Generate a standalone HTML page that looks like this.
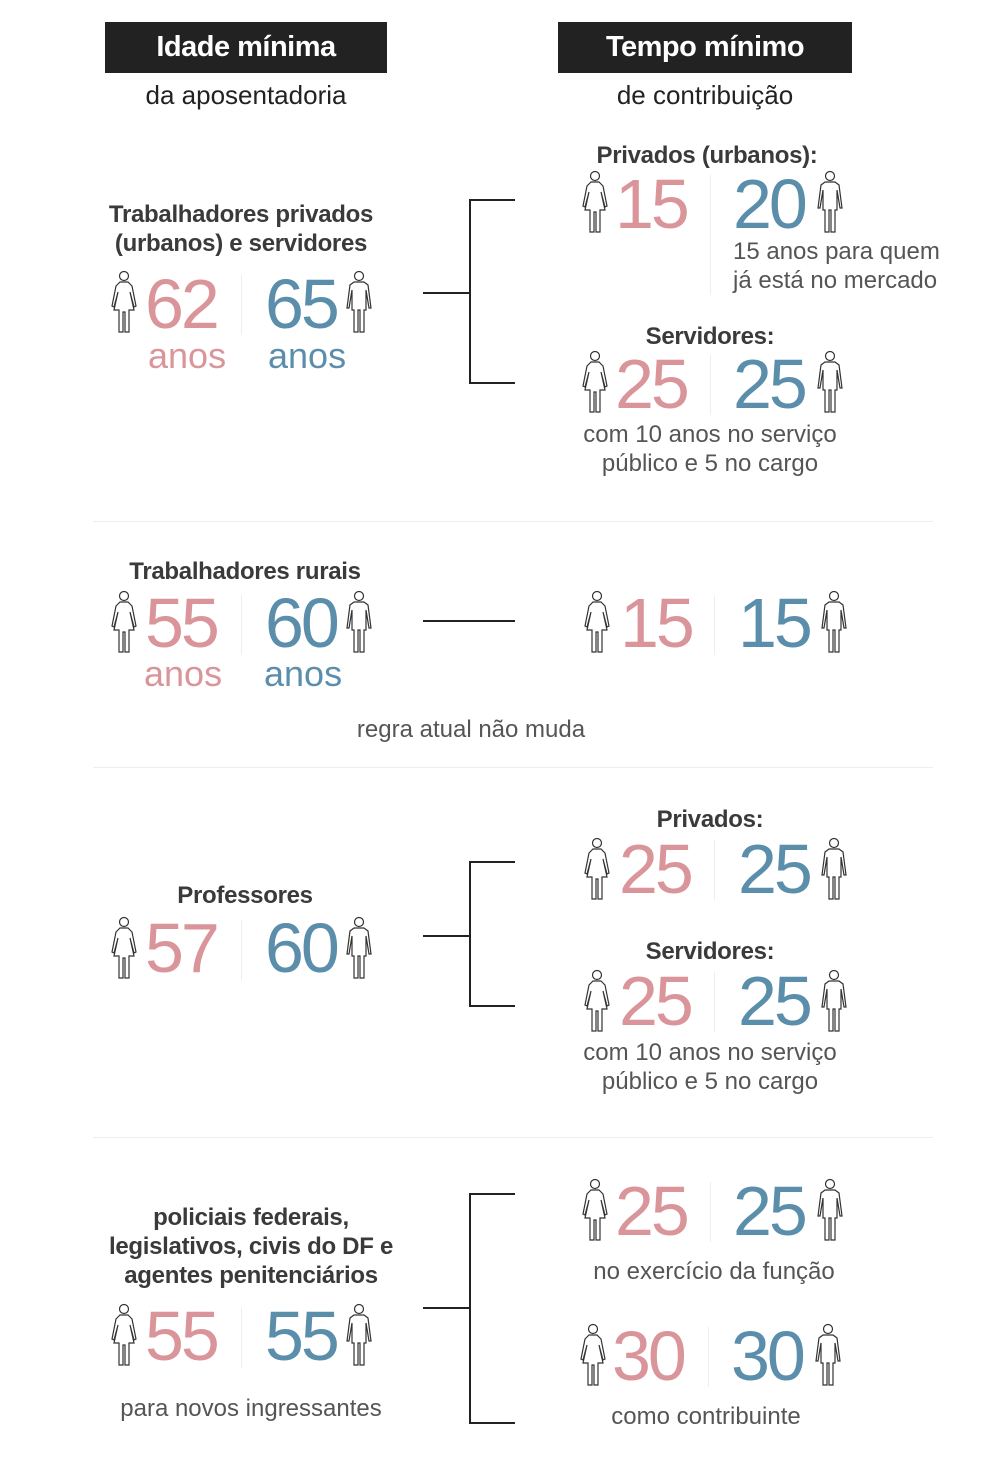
<!DOCTYPE html>
<html><head><meta charset="utf-8"><style>
body{margin:0;background:#fff;}
#c{position:relative;width:1000px;height:1479px;overflow:hidden;font-family:"Liberation Sans",sans-serif;}
#c div{position:absolute;white-space:nowrap;}
.hb{background:#222;color:#fff;font-weight:bold;font-size:29px;text-align:center;line-height:51px;height:51px;letter-spacing:-0.5px}
.sub{font-size:26px;color:#222;text-align:center;width:400px;line-height:30px}
.lb{font-size:24px;font-weight:bold;color:#3a3a3a;text-align:center;width:400px;line-height:29px;letter-spacing:-0.3px}
.gt{font-size:24px;color:#555;text-align:center;width:400px;line-height:29px}
.n{font-size:70px;line-height:70px;letter-spacing:-3px}
.p{color:#d9959a}.b{color:#5b8eab}
.an{font-size:36px;line-height:36px}
.s{width:1px;background:#eee}
.k{background:#222}
.d{height:1px;background:#eee;left:93px;width:840px}
svg{position:absolute}
</style></head><body><div id="c">
<svg width="0" height="0" style="position:absolute"><defs>
<path id="wm" d="M10,12 L18,12 L22,16 L26,36 L24,37 L20,22 L24,40 L19,40 L19,62 L15,62 L15,42 L13,42 L13,62 L9,62 L9,40 L4,40 L8,22 L4,37 L2,36 L6,16 Z"/>
<path id="mn" d="M9,12 L19,12 L23,15 L26,38 L24,38 L21,20 L21,40 L19,40 L19,62 L15,62 L15,40 L13,40 L13,62 L9,62 L9,40 L7,40 L7,20 L4,38 L2,38 L5,15 Z"/>
</defs></svg>

<div class="hb" style="left:105px;top:22px;width:282px">Idade mínima</div>
<div class="hb" style="left:558px;top:22px;width:294px">Tempo mínimo</div>
<div class="sub" style="left:46px;top:80px">da aposentadoria</div>
<div class="sub" style="left:505px;top:80px">de contribuição</div>

<!-- Section 1 -->
<div class="lb" style="left:41px;top:200px">Trabalhadores privados</div>
<div class="lb" style="left:41px;top:229px">(urbanos) e servidores</div>
<svg style="left:110px;top:270px" width="28" height="64"><circle cx="14" cy="6" r="4.5" fill="#fff" stroke="#333" stroke-width="1.2"/><use href="#wm" fill="#fff" stroke="#333" stroke-width="1.2"/></svg>
<div class="n p" style="left:145px;top:269px">62</div>
<div class="s" style="left:241px;top:275px;height:60px"></div>
<div class="n b" style="left:265px;top:269px">65</div>
<svg style="left:345px;top:270px" width="28" height="64"><circle cx="14" cy="6" r="4.5" fill="#fff" stroke="#333" stroke-width="1.2"/><use href="#mn" fill="#fff" stroke="#333" stroke-width="1.2"/></svg>
<div class="an p" style="left:148px;top:338px">anos</div>
<div class="an b" style="left:268px;top:338px">anos</div>

<div class="k" style="left:423px;top:292px;width:48px;height:2px"></div>
<div class="k" style="left:469px;top:199px;width:2px;height:185px"></div>
<div class="k" style="left:469px;top:199px;width:46px;height:2px"></div>
<div class="k" style="left:469px;top:382px;width:46px;height:2px"></div>

<div class="lb" style="left:507px;top:141px">Privados (urbanos):</div>
<svg style="left:581px;top:170px" width="28" height="64"><circle cx="14" cy="6" r="4.5" fill="#fff" stroke="#333" stroke-width="1.2"/><use href="#wm" fill="#fff" stroke="#333" stroke-width="1.2"/></svg>
<div class="n p" style="left:615px;top:169px">15</div>
<div class="s" style="left:710px;top:175px;height:120px"></div>
<div class="n b" style="left:733px;top:169px">20</div>
<svg style="left:816px;top:170px" width="28" height="64"><circle cx="14" cy="6" r="4.5" fill="#fff" stroke="#333" stroke-width="1.2"/><use href="#mn" fill="#fff" stroke="#333" stroke-width="1.2"/></svg>
<div class="gt" style="left:733px;top:237px;text-align:left">15 anos para quem</div>
<div class="gt" style="left:733px;top:266px;text-align:left">já está no mercado</div>

<div class="lb" style="left:510px;top:322px">Servidores:</div>
<svg style="left:581px;top:350px" width="28" height="64"><circle cx="14" cy="6" r="4.5" fill="#fff" stroke="#333" stroke-width="1.2"/><use href="#wm" fill="#fff" stroke="#333" stroke-width="1.2"/></svg>
<div class="n p" style="left:615px;top:349px">25</div>
<div class="s" style="left:710px;top:355px;height:60px"></div>
<div class="n b" style="left:733px;top:349px">25</div>
<svg style="left:816px;top:350px" width="28" height="64"><circle cx="14" cy="6" r="4.5" fill="#fff" stroke="#333" stroke-width="1.2"/><use href="#mn" fill="#fff" stroke="#333" stroke-width="1.2"/></svg>
<div class="gt" style="left:510px;top:420px">com 10 anos no serviço</div>
<div class="gt" style="left:510px;top:449px">público e 5 no cargo</div>

<div class="d" style="top:521px"></div>

<!-- Section 2 -->
<div class="lb" style="left:45px;top:557px">Trabalhadores rurais</div>
<svg style="left:110px;top:590px" width="28" height="64"><circle cx="14" cy="6" r="4.5" fill="#fff" stroke="#333" stroke-width="1.2"/><use href="#wm" fill="#fff" stroke="#333" stroke-width="1.2"/></svg>
<div class="n p" style="left:145px;top:588px">55</div>
<div class="s" style="left:241px;top:595px;height:60px"></div>
<div class="n b" style="left:265px;top:588px">60</div>
<svg style="left:345px;top:590px" width="28" height="64"><circle cx="14" cy="6" r="4.5" fill="#fff" stroke="#333" stroke-width="1.2"/><use href="#mn" fill="#fff" stroke="#333" stroke-width="1.2"/></svg>
<div class="an p" style="left:144px;top:656px">anos</div>
<div class="an b" style="left:264px;top:656px">anos</div>
<div class="k" style="left:423px;top:620px;width:92px;height:2px"></div>
<svg style="left:583px;top:590px" width="28" height="64"><circle cx="14" cy="6" r="4.5" fill="#fff" stroke="#333" stroke-width="1.2"/><use href="#wm" fill="#fff" stroke="#333" stroke-width="1.2"/></svg>
<div class="n p" style="left:620px;top:588px">15</div>
<div class="s" style="left:714px;top:595px;height:60px"></div>
<div class="n b" style="left:738px;top:588px">15</div>
<svg style="left:820px;top:590px" width="28" height="64"><circle cx="14" cy="6" r="4.5" fill="#fff" stroke="#333" stroke-width="1.2"/><use href="#mn" fill="#fff" stroke="#333" stroke-width="1.2"/></svg>
<div class="gt" style="left:271px;top:715px">regra atual não muda</div>

<div class="d" style="top:767px"></div>

<!-- Section 3 -->
<div class="lb" style="left:45px;top:881px">Professores</div>
<svg style="left:110px;top:916px" width="28" height="64"><circle cx="14" cy="6" r="4.5" fill="#fff" stroke="#333" stroke-width="1.2"/><use href="#wm" fill="#fff" stroke="#333" stroke-width="1.2"/></svg>
<div class="n p" style="left:145px;top:913px">57</div>
<div class="s" style="left:241px;top:920px;height:60px"></div>
<div class="n b" style="left:265px;top:913px">60</div>
<svg style="left:345px;top:916px" width="28" height="64"><circle cx="14" cy="6" r="4.5" fill="#fff" stroke="#333" stroke-width="1.2"/><use href="#mn" fill="#fff" stroke="#333" stroke-width="1.2"/></svg>
<div class="k" style="left:423px;top:935px;width:48px;height:2px"></div>
<div class="k" style="left:469px;top:861px;width:2px;height:146px"></div>
<div class="k" style="left:469px;top:861px;width:46px;height:2px"></div>
<div class="k" style="left:469px;top:1005px;width:46px;height:2px"></div>

<div class="lb" style="left:510px;top:805px">Privados:</div>
<svg style="left:583px;top:837px" width="28" height="64"><circle cx="14" cy="6" r="4.5" fill="#fff" stroke="#333" stroke-width="1.2"/><use href="#wm" fill="#fff" stroke="#333" stroke-width="1.2"/></svg>
<div class="n p" style="left:619px;top:834px">25</div>
<div class="s" style="left:714px;top:840px;height:60px"></div>
<div class="n b" style="left:738px;top:834px">25</div>
<svg style="left:820px;top:837px" width="28" height="64"><circle cx="14" cy="6" r="4.5" fill="#fff" stroke="#333" stroke-width="1.2"/><use href="#mn" fill="#fff" stroke="#333" stroke-width="1.2"/></svg>
<div class="lb" style="left:510px;top:937px">Servidores:</div>
<svg style="left:583px;top:969px" width="28" height="64"><circle cx="14" cy="6" r="4.5" fill="#fff" stroke="#333" stroke-width="1.2"/><use href="#wm" fill="#fff" stroke="#333" stroke-width="1.2"/></svg>
<div class="n p" style="left:619px;top:966px">25</div>
<div class="s" style="left:714px;top:972px;height:60px"></div>
<div class="n b" style="left:738px;top:966px">25</div>
<svg style="left:820px;top:969px" width="28" height="64"><circle cx="14" cy="6" r="4.5" fill="#fff" stroke="#333" stroke-width="1.2"/><use href="#mn" fill="#fff" stroke="#333" stroke-width="1.2"/></svg>
<div class="gt" style="left:510px;top:1038px">com 10 anos no serviço</div>
<div class="gt" style="left:510px;top:1067px">público e 5 no cargo</div>

<div class="d" style="top:1137px"></div>

<!-- Section 4 -->
<div class="lb" style="left:51px;top:1203px">policiais federais,</div>
<div class="lb" style="left:51px;top:1232px">legislativos, civis do DF e</div>
<div class="lb" style="left:51px;top:1261px">agentes penitenciários</div>
<svg style="left:110px;top:1303px" width="28" height="64"><circle cx="14" cy="6" r="4.5" fill="#fff" stroke="#333" stroke-width="1.2"/><use href="#wm" fill="#fff" stroke="#333" stroke-width="1.2"/></svg>
<div class="n p" style="left:145px;top:1301px">55</div>
<div class="s" style="left:241px;top:1308px;height:60px"></div>
<div class="n b" style="left:265px;top:1301px">55</div>
<svg style="left:345px;top:1303px" width="28" height="64"><circle cx="14" cy="6" r="4.5" fill="#fff" stroke="#333" stroke-width="1.2"/><use href="#mn" fill="#fff" stroke="#333" stroke-width="1.2"/></svg>
<div class="gt" style="left:51px;top:1394px">para novos ingressantes</div>
<div class="k" style="left:423px;top:1307px;width:48px;height:2px"></div>
<div class="k" style="left:469px;top:1193px;width:2px;height:231px"></div>
<div class="k" style="left:469px;top:1193px;width:46px;height:2px"></div>
<div class="k" style="left:469px;top:1422px;width:46px;height:2px"></div>

<svg style="left:581px;top:1178px" width="28" height="64"><circle cx="14" cy="6" r="4.5" fill="#fff" stroke="#333" stroke-width="1.2"/><use href="#wm" fill="#fff" stroke="#333" stroke-width="1.2"/></svg>
<div class="n p" style="left:615px;top:1176px">25</div>
<div class="s" style="left:710px;top:1182px;height:60px"></div>
<div class="n b" style="left:733px;top:1176px">25</div>
<svg style="left:816px;top:1178px" width="28" height="64"><circle cx="14" cy="6" r="4.5" fill="#fff" stroke="#333" stroke-width="1.2"/><use href="#mn" fill="#fff" stroke="#333" stroke-width="1.2"/></svg>
<div class="gt" style="left:514px;top:1257px">no exercício da função</div>
<svg style="left:579px;top:1323px" width="28" height="64"><circle cx="14" cy="6" r="4.5" fill="#fff" stroke="#333" stroke-width="1.2"/><use href="#wm" fill="#fff" stroke="#333" stroke-width="1.2"/></svg>
<div class="n p" style="left:612px;top:1321px">30</div>
<div class="s" style="left:708px;top:1327px;height:60px"></div>
<div class="n b" style="left:731px;top:1321px">30</div>
<svg style="left:814px;top:1323px" width="28" height="64"><circle cx="14" cy="6" r="4.5" fill="#fff" stroke="#333" stroke-width="1.2"/><use href="#mn" fill="#fff" stroke="#333" stroke-width="1.2"/></svg>
<div class="gt" style="left:506px;top:1402px">como contribuinte</div>
</div></body></html>
